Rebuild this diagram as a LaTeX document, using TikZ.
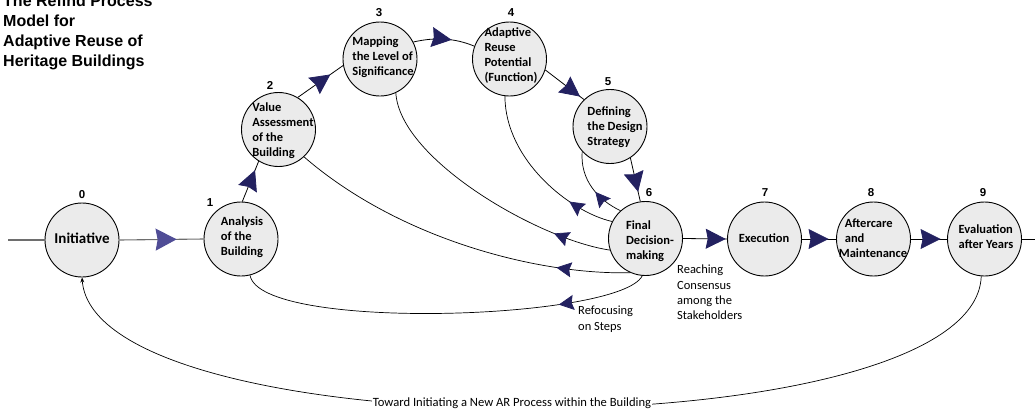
\documentclass[tikz,border=0pt]{standalone}
\usepackage{fontspec}
\setmainfont{Carlito}
\newfontfamily\titlefont{Liberation Sans}
\usetikzlibrary{arrows.meta,decorations.markings,calc}
\definecolor{navy}{RGB}{35,33,96}
\definecolor{lightnavy}{RGB}{80,77,150}
\definecolor{stagefill}{RGB}{235,235,235}
\definecolor{linegrey}{RGB}{110,110,110}
\begin{document}
\begin{tikzpicture}[x=1pt,y=-1pt,
 stage/.style={circle, draw=black, line width=0.9pt, fill=stagefill, minimum size=74pt, inner sep=0pt},
 stagetext/.style={font=\bfseries\fontsize{12.5}{15}\selectfont, align=left, inner sep=0pt},
 numlabel/.style={font=\titlefont\bfseries\fontsize{11.5}{12}\selectfont, inner sep=0pt},
 note/.style={font=\fontsize{12.5}{15.3}\selectfont, align=left, inner sep=0pt, anchor=north west},
 flow/.style={line width=0.8pt},
 back/.style={line width=0.7pt},
 bigarrow/.style={postaction={decorate, decoration={markings, mark=at position #1 with {\arrow{Stealth[length=20pt,width=20pt,inset=2pt,color=navy]}}}}},
 lightarrow/.style={postaction={decorate, decoration={markings, mark=at position #1 with {\arrow{Stealth[length=21pt,width=22pt,inset=2pt,color=lightnavy]}}}}},
 smallarrow/.style={postaction={decorate, decoration={markings, mark=at position #1 with {\arrow{Stealth[length=15pt,width=15pt,inset=2pt,color=navy]}}}}},
]
\useasboundingbox (0,0) rectangle (1035,410);

% title
\node[anchor=north west, font=\titlefont\bfseries\fontsize{16}{20}\selectfont, align=left, inner sep=0pt] (title) at (3,-5) {The Refind Process\\Model for\\Adaptive Reuse of\\Heritage Buildings};

% stages
\node[stage] (n0) at (82,240) {};
\node[stage] (n1) at (241,239) {};
\node[stage] (n2) at (278.5,129.5) {};
\node[stage] (n3) at (380,59) {};
\node[stage] (n4) at (509.5,59) {};
\node[stage] (n5) at (610,126.5) {};
\node[stage] (n6) at (645.5,238.5) {};
\node[stage] (n7) at (764.5,239) {};
\node[stage] (n8) at (873.5,239) {};
\node[stage] (n9) at (984.5,239) {};

% stage texts
\node[stagetext, font=\bfseries\fontsize{15}{17}\selectfont] (t0) at (82,238) {Initiative};
\node[stagetext] (t1) at (242,237) {Analysis\\of the\\Building};
\node[stagetext] (t2) at (283,131) {Value\\Assessment\\of the\\Building};
\node[stagetext] (t3) at (383,57) {Mapping\\the Level of\\Significance};
\node[stagetext] (t4) at (511,56) {Adaptive\\Reuse\\Potential\\(Function)};
\node[stagetext] (t5) at (615,127) {Defining\\the Design\\Strategy};
\node[stagetext] (t6) at (650,241) {Final\\Decision-\\making};
\node[stagetext] (t7) at (764,238) {Execution};
\node[stagetext] (t8) at (873,238) {\hspace*{6pt}Aftercare\\\hspace*{6pt}and\\Maintenance};
\node[stagetext] (t9) at (986,237) {Evaluation\\after Years};

% numbers
\node[numlabel] (l0) at (82,195) {0};
\node[numlabel] (l1) at (210,203) {1};
\node[numlabel] (l2) at (270,85) {2};
\node[numlabel] (l3) at (379,13) {3};
\node[numlabel] (l4) at (511,13) {4};
\node[numlabel] (l5) at (608,82) {5};
\node[numlabel] (l6) at (649,193) {6};
\node[numlabel] (l7) at (765,193) {7};
\node[numlabel] (l8) at (871,193) {8};
\node[numlabel] (l9) at (983,193) {9};

% main flow
\coordinate (inL) at (8,240);
\coordinate (outR) at (1035,239);
\draw[flow, draw=linegrey, line width=1.1pt] (inL) -- (n0.west);
\draw[flow, draw=linegrey, line width=1.1pt, lightarrow=0.68] (n0.east) -- (n1.west);
\draw[flow, bigarrow=0.78] (n1.88) -- (n2.-122);
\draw[flow, bigarrow=0.72] (n2.59) -- (n3.190);
\draw[flow, bigarrow=0.62] (n3.27) .. controls (435,37) and (455,38) .. (n4.160);
\draw[flow, bigarrow=0.9] (n4.-17) -- (n5.134);
\draw[flow, bigarrow=0.78] (n5.-57) -- (n6.98);
\draw[flow, bigarrow=0.97] (n6.east) -- (n7.west);
\draw[flow, bigarrow=0.78] (n7.east) -- (n8.west);
\draw[flow, bigarrow=0.82] (n8.east) -- (n9.west);
\draw[flow] (n9.east) -- (outR);

% feedback loops
\draw[back, smallarrow=0.42] (n6.132) .. controls (598,200) and (580,180) .. (n5.-138);
\draw[back, smallarrow=0.27] (n6.153) .. controls (570,212) and (505,160) .. (n4.-97);
\draw[back, smallarrow=0.21] (n6.198) .. controls (540,240) and (400,160) .. (n3.-65);
\draw[back, smallarrow=0.21] (n6.-114) .. controls (540,275) and (400,240) .. (n2.-47);
\draw[back, smallarrow=0.22] (n6.-95) .. controls (620,320) and (260,332) .. (n1.-76);

% return loop
\draw[back, -{Stealth[length=5pt,width=4pt]}] (n9.-95) .. controls (975,452) and (95,452) .. (n0.-90);
\node[font=\fontsize{12.6}{14}\selectfont, fill=white, inner sep=0.5pt] (ret) at (512,403) {Toward Initiating a New AR Process within the Building};

% notes
\node[note] (cons) at (677,265) {Reaching\\Consensus\\among the\\Stakeholders};
\node[note] (refo) at (578,306) {Refocusing\\on Steps};
\end{tikzpicture}
\end{document}
